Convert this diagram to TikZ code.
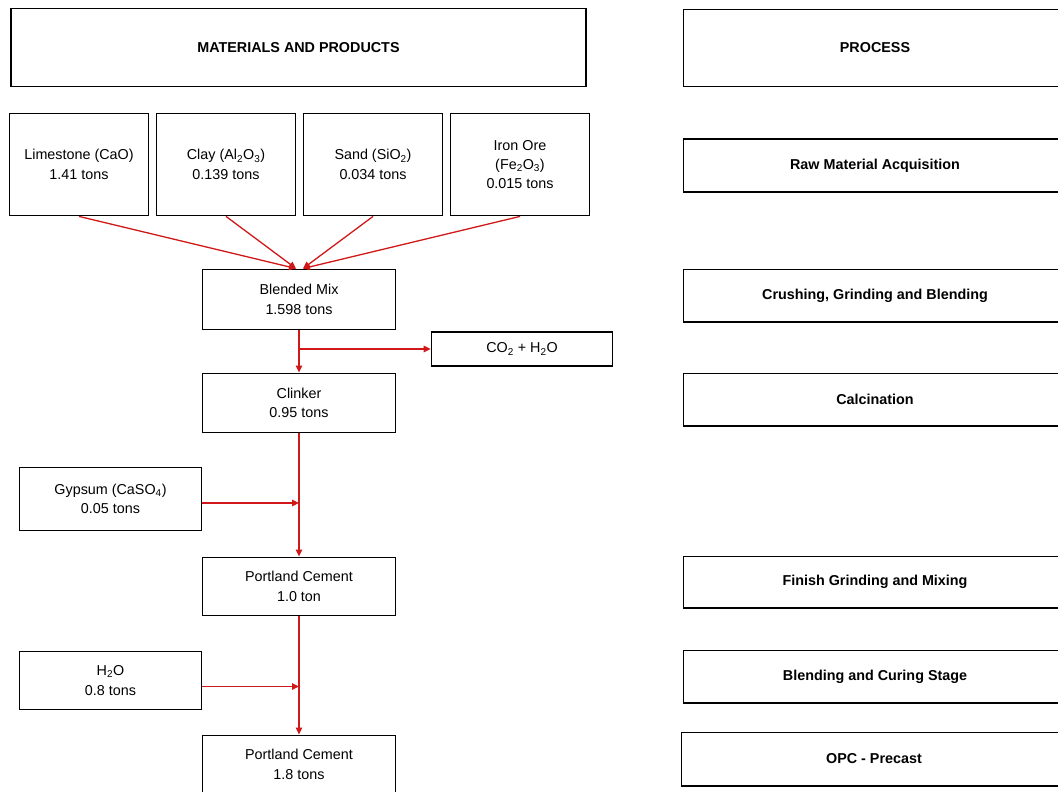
\documentclass[tikz,border=0pt]{standalone}
\usepackage{fontspec}
\setmainfont{Liberation Sans}
\usepackage{tikz}
\usetikzlibrary{arrows.meta}

\definecolor{flowred}{RGB}{208,24,24}

\begin{document}
\begin{tikzpicture}[x=1bp, y=-1bp,
    box/.style={draw=black, line width=1.2bp, inner sep=0pt, align=center,
        font=\fontsize{14.4}{19.5}\selectfont},
    flow/.style={flowred, line width=1.3bp, -{Triangle[length=7bp,width=6.5bp]}}]

            \useasboundingbox (0,0) rectangle (1058,792);

            % left column: materials and products
            \node[box, minimum width=577, minimum height=79] (mathead) at (298.5,47.5) {\textbf{MATERIALS AND PRODUCTS}};
            \node[box, minimum width=140, minimum height=103] (lime) at (79,164.5) {Limestone (CaO)\\1.41 tons};
            \node[box, minimum width=140, minimum height=103] (clay) at (226,164.5) {Clay (Al\textsubscript{2}O\textsubscript{3})\\0.139 tons};
            \node[box, minimum width=140, minimum height=103] (sand) at (373,164.5) {Sand (SiO\textsubscript{2})\\0.034 tons};
            \node[box, minimum width=140, minimum height=103] (iron) at (520,164.5) {Iron Ore\\(Fe\textsubscript{2}O\textsubscript{3})\\0.015 tons};
            \node[box, minimum width=193, minimum height=61] (blend) at (299,299.5) {Blended Mix\\1.598 tons};
            \node[box, minimum width=182, minimum height=34] (gas) at (522,349) {CO\textsubscript{2} + H\textsubscript{2}O};
            \node[box, minimum width=193, minimum height=60] (clinker) at (299,403) {Clinker\\0.95 tons};
            \node[box, minimum width=183, minimum height=64] (gypsum) at (110.5,499) {Gypsum (CaSO\textsubscript{4})\\0.05 tons};
            \node[box, minimum width=193, minimum height=59] (cement) at (299,586.5) {Portland Cement\\1.0 ton};
            \node[box, minimum width=183, minimum height=59] (water) at (110.5,680.5) {H\textsubscript{2}O\\0.8 tons};
            \node[box, minimum width=193, minimum height=59] (precast) at (299,764.5) {Portland Cement\\1.8 tons};

            % right column: process steps
            \node[box, minimum width=384, minimum height=78] (prochead) at (875,48) {\textbf{PROCESS}};
            \node[box, minimum width=384, minimum height=53] (raw) at (875,165.5) {\textbf{Raw Material Acquisition}};
            \node[box, minimum width=384, minimum height=53] (crush) at (875,295.5) {\textbf{Crushing, Grinding and Blending}};
            \node[box, minimum width=384, minimum height=53] (calc) at (875,399.5) {\textbf{Calcination}};
            \node[box, minimum width=384, minimum height=52] (finish) at (875,582) {\textbf{Finish Grinding and Mixing}};
            \node[box, minimum width=384, minimum height=53] (curing) at (875,676.5) {\textbf{Blending and Curing Stage}};
            \node[box, minimum width=386, minimum height=54] (opc) at (874,759) {\textbf{OPC - Precast}};

            \draw[flow] (lime.south) -- ([xshift=-3bp]blend.north);
            \draw[flow] (clay.south) -- ([xshift=-3bp]blend.north);
            \draw[flow] (sand.south) -- ([xshift=4bp]blend.north);
            \draw[flow] (iron.south) -- ([xshift=4bp]blend.north);

            \draw[flow] (blend.south) -- (clinker.north);
            \draw[flow] (blend.south |- gas.west) -- (gas.west);
            \draw[flow] (clinker.south) -- (cement.north);
            \draw[flow] ([yshift=-4bp]gypsum.east) -- ([yshift=-4bp]gypsum.east -| cement.north);
            \draw[flow] (cement.south) -- (precast.north);
            \draw[flow] ([yshift=-6bp]water.east) -- ([yshift=-6bp]water.east -| precast.north);

        \end{tikzpicture}
\end{document}
